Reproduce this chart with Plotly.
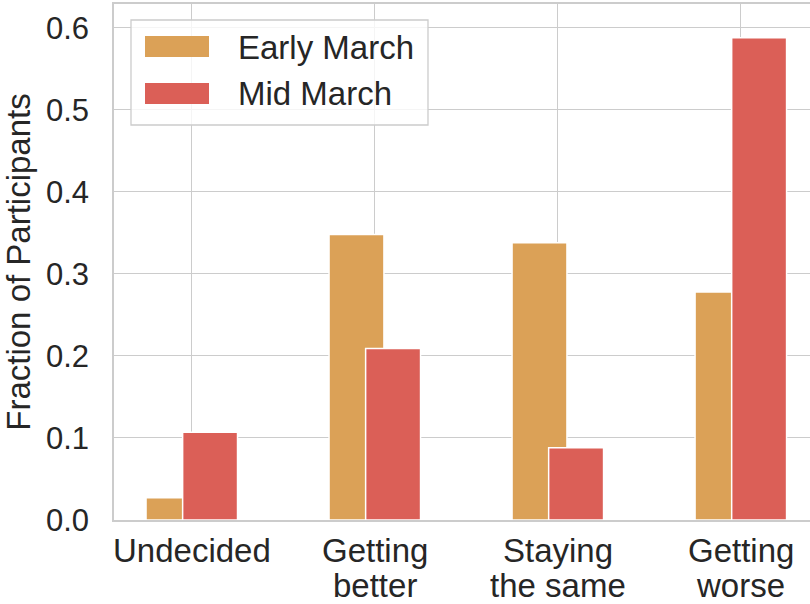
import plotly.graph_objects as go

# données
categories = ["Undecided", "Getting<br>better", "Staying<br>the same", "Getting<br>worse"]
early_march = [0.027, 0.348, 0.338, 0.278]
mid_march = [0.107, 0.209, 0.088, 0.588]
series_names = ["Early March", "Mid March"]
y_ticks = [0.0, 0.1, 0.2, 0.3, 0.4, 0.5, 0.6]

EARLY_COLOR = "#dba157"
MID_COLOR = "#db5f57"
GRID = "#cccccc"
TEXT = "#262626"
FONT = "Liberation Sans, Arial, sans-serif"
FS = 33

W, H = 810, 604
L, R, T, B = 114, 810, 4, 520   # zone de tracé en pixels


def px(x):
    return (x - L) / (R - L)


def py(y):
    return (B - y) / (B - T)


pos = list(range(len(categories)))

fig = go.Figure()

# barres décalées qui se chevauchent
fig.add_trace(go.Bar(
    x=[p - 0.1 for p in pos], y=early_march, width=0.3,
    name=series_names[0],
    marker=dict(color=EARLY_COLOR, line=dict(color="white", width=1.5)),
    showlegend=False,
))
fig.add_trace(go.Bar(
    x=[p + 0.1 for p in pos], y=mid_march, width=0.3,
    name=series_names[1],
    marker=dict(color=MID_COLOR, line=dict(color="white", width=1.5)),
    showlegend=False,
))

# légende dessinée à la main (patchs larges comme matplotlib)
shapes = [dict(
    type="rect", xref="paper", yref="paper", layer="above",
    x0=px(131), x1=px(428), y0=py(125), y1=py(20),
    fillcolor="rgba(255,255,255,0.8)", line=dict(color=GRID, width=1.3),
)]
annotations = []
for i, (name, color) in enumerate(zip(series_names, [EARLY_COLOR, MID_COLOR])):
    top = 36 + i * 47
    shapes.append(dict(
        type="rect", xref="paper", yref="paper", layer="above",
        x0=px(145), x1=px(209), y0=py(top + 21), y1=py(top),
        fillcolor=color, line=dict(width=0),
    ))
    annotations.append(dict(
        xref="paper", yref="paper", x=px(236), y=py(top + 11),
        xanchor="left", yanchor="middle", showarrow=False,
        text=name, font=dict(size=FS, color=TEXT, family=FONT),
    ))

# étiquettes de catégories : une annotation par ligne pour un interligne serré
for p, label in zip(pos, categories):
    for j, line in enumerate(label.split("<br>")):
        annotations.append(dict(
            xref="x", yref="paper", x=p, y=py(550 + j * 35),
            xanchor="center", yanchor="middle", showarrow=False,
            text=line, font=dict(size=FS, color=TEXT, family=FONT),
        ))

fig.update_layout(
    width=W, height=H,
    margin=dict(l=L, r=W - R, t=T, b=H - B, autoexpand=False),
    plot_bgcolor="white", paper_bgcolor="white",
    barmode="overlay",
    font=dict(family=FONT, size=FS, color=TEXT),
    shapes=shapes,
    annotations=annotations,
)

fig.update_xaxes(
    range=[-0.425, 3.378], automargin=False,
    tickvals=pos, showticklabels=False,
    showgrid=True, gridcolor=GRID, gridwidth=1.3,
    showline=True, linecolor=GRID, linewidth=1.5, mirror=True,
    zeroline=False, ticks="",
)
fig.update_yaxes(
    range=[0, 0.629], automargin=True,
    tickvals=y_ticks, ticktext=[f"{v:.1f}" for v in y_ticks],
    showgrid=True, gridcolor=GRID, gridwidth=1.3,
    showline=True, linecolor=GRID, linewidth=1.5,
    zeroline=False, ticks="", ticklabelstandoff=17,
    tickfont=dict(size=31, color=TEXT),
    title=dict(text="Fraction of Participants", standoff=6,
               font=dict(size=FS, color=TEXT)),
)

# la page a une marge de 8 px par défaut : on la retire
fig.write_html("out.html", config={"displayModeBar": False},
               post_script="document.body.style.margin = '0';")
